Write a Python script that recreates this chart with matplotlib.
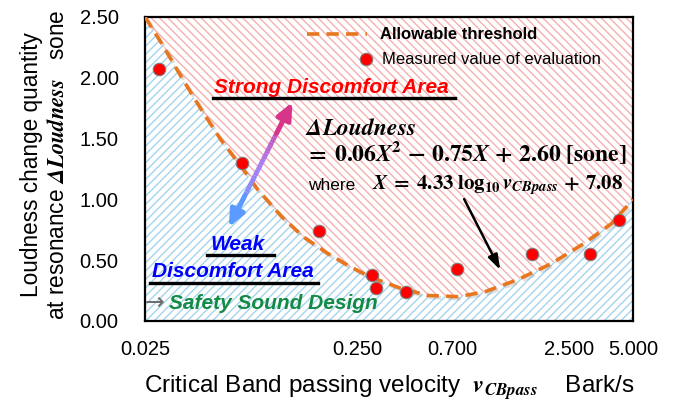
import numpy as np
import matplotlib
matplotlib.use("Agg")
import matplotlib.pyplot as plt
import matplotlib.colors as mcolors
import matplotlib.patheffects as pe
from matplotlib.lines import Line2D

plt.rcParams['font.family'] = ['Liberation Sans', 'DejaVu Sans']
plt.rcParams['mathtext.fontset'] = 'stix'
plt.rcParams['hatch.linewidth'] = 1.0

# allowable threshold curve
thr_v = [0.025, 0.030, 0.037, 0.046, 0.057, 0.071, 0.085, 0.11, 0.14, 0.18, 0.23,
         0.29, 0.40, 0.54, 0.75, 1.0, 1.43, 2.05, 2.95, 3.95, 5.0]
thr_L = [2.50, 2.28, 2.01, 1.74, 1.49, 1.27, 1.08, 0.86, 0.69, 0.56, 0.45,
         0.36, 0.27, 0.21, 0.20, 0.24, 0.34, 0.47, 0.64, 0.80, 1.00]

# measured values of evaluation
meas_v = [0.029, 0.072, 0.166, 0.293, 0.308, 0.426, 0.738, 1.67, 3.12, 4.30]
meas_L = [2.07, 1.30, 0.74, 0.38, 0.27, 0.24, 0.43, 0.55, 0.55, 0.83]

xticks = [0.025, 0.25, 0.7, 2.5, 5.0]
xticklabels = ['0.025', '0.250', '0.700', '2.500', '5.000']
yticks = [0.0, 0.5, 1.0, 1.5, 2.0, 2.5]

orange = '#E8761E'
fig = plt.figure(figsize=(6.74, 4.01), dpi=100)
ax = fig.add_axes([145/674, 80/401, 488/674, 304/401])

ax.fill_between(thr_v, thr_L, 2.5, facecolor='none', edgecolor='#F5B0B0',
                hatch='\\\\\\\\', linewidth=0)
ax.fill_between(thr_v, 0, thr_L, facecolor='none', edgecolor='#A5D5EE',
                hatch='////', linewidth=0)

shadow = [pe.SimpleLineShadow(offset=(1.5, -1.5), alpha=0.25, shadow_color='grey'), pe.Normal()]
ax.plot(thr_v, thr_L, color=orange, lw=2.6, linestyle=(0, (3.4, 2)),
        path_effects=shadow, zorder=3)
ax.plot(meas_v, meas_L, 'o', color='#FF0000', ms=9, mec='#7F7F7F', mew=0.8, zorder=4)

ax.set_xscale('log')
ax.set_xlim(0.025, 5.0)
ax.set_ylim(0, 2.5)
ax.set_xticks(xticks)
ax.set_xticklabels(xticklabels)
ax.minorticks_off()
ax.set_yticks(yticks)
ax.set_yticklabels(['%.2f' % t for t in yticks])
ax.tick_params(length=0, labelsize=14.5)
ax.tick_params(axis='y', pad=19)
ax.tick_params(axis='x', pad=14)
for s in ax.spines.values():
    s.set_linewidth(1.6)

ax.set_xlabel(r'Critical Band passing velocity  $\mathbfit{v}_{\mathbfit{CBpass}}$    Bark/s',
              fontsize=17.5, labelpad=10)
ax.set_ylabel('Loudness change quantity\n' + r'at resonance $\mathbfit{\Delta Loudness}$   sone',
              fontsize=16.3, labelpad=8, linespacing=1.12)
ax.yaxis.label.set_y(0.515)

# legend
h1 = Line2D([], [], color=orange, lw=2.6, linestyle=(0, (3.4, 2)))
leg1 = ax.legend([h1], ['Allowable threshold'], loc='center left',
                 bbox_to_anchor=(0.331, 0.941), frameon=False, fontsize=12,
                 handlelength=3.6, handletextpad=0.8, borderpad=0, borderaxespad=0)
leg1.get_texts()[0].set_fontweight('bold')
ax.add_artist(leg1)
h2 = Line2D([], [], marker='o', color='#FF0000', ls='none', ms=9, mec='#7F7F7F', mew=0.8)
ax.legend([h2], ['Measured value of evaluation'], loc='center left',
          bbox_to_anchor=(0.436, 0.859), frameon=False, fontsize=12,
          handlelength=1.0, handletextpad=0.45, borderpad=0, borderaxespad=0)

tr = ax.transAxes

ax.text(0.142, 0.768, 'Strong Discomfort Area', transform=tr, color='#FF0000',
        fontsize=15, fontweight='bold', style='italic', va='center', ha='left', zorder=5)
ax.plot([0.139, 0.636], [0.733, 0.733], color='black', lw=2.4, transform=tr, zorder=5)

ax.text(0.328, 0.632, r'$\mathbfit{\Delta Loudness}$', transform=tr, fontsize=17,
        va='center', ha='left', zorder=5)
ax.text(0.328, 0.553,
        r'$\mathbf{=\;0.06}\mathbfit{X}^{\mathbf{2}}\mathbf{\,-\,0.75}\mathbfit{X}\mathbf{\,+\,2.60\ [sone]}$',
        transform=tr, fontsize=17, va='center', ha='left', zorder=5)
ax.text(0.334, 0.447, 'where', transform=tr, fontsize=12.5, va='center', ha='left', zorder=5)
ax.text(0.465, 0.447,
        r'$\mathbfit{X}\mathbf{\;=\;4.33\;log_{10}}\,\mathbfit{v}_{\mathbfit{CBpass}}\mathbf{\,+\,7.08}$',
        transform=tr, fontsize=15, va='center', ha='left', zorder=5)

ax.text(0.190, 0.252, 'Weak', transform=tr, color='#0000FF', fontsize=15,
        fontweight='bold', style='italic', va='center', ha='center', zorder=5)
ax.plot([0.127, 0.264], [0.218, 0.218], color='black', lw=2.4, transform=tr, zorder=5)
ax.text(0.015, 0.163, 'Discomfort Area', transform=tr, color='#0000FF', fontsize=15,
        fontweight='bold', style='italic', va='center', ha='left', zorder=5)
ax.plot([0.010, 0.354], [0.125, 0.125], color='black', lw=2.4, transform=tr, zorder=5)
ax.text(0.000, 0.060, '\u2192', transform=tr, color='#6E6E6E', fontsize=17,
        va='center', ha='left', zorder=5, family=['DejaVu Sans'])
ax.text(0.050, 0.056, 'Safety Sound Design', transform=tr, color='#138A45', fontsize=15,
        fontweight='bold', style='italic', va='center', ha='left', zorder=5)

# gradient double arrow
p0 = np.array([0.172, 0.309])
p1 = np.array([0.302, 0.720])
cmap = mcolors.LinearSegmentedColormap.from_list('g', ['#5B9BFF', '#A97BF5', '#D8348A'])
n = 40
for i in range(n):
    a = p0 + (p1 - p0) * (0.06 + 0.88 * i / n)
    b = p0 + (p1 - p0) * (0.06 + 0.88 * (i + 1) / n)
    ax.plot([a[0], b[0]], [a[1], b[1]], color=cmap(i / (n - 1)), lw=3.4,
            solid_capstyle='butt', transform=tr, zorder=6)
ax.annotate('', xy=p1, xytext=p0 + (p1 - p0) * 0.75, xycoords=tr, textcoords=tr,
            arrowprops=dict(arrowstyle='-|>,head_length=1.0,head_width=0.45',
                            color='#D8348A', lw=3.4, shrinkA=0, shrinkB=0), zorder=6)
ax.annotate('', xy=p0, xytext=p0 + (p1 - p0) * 0.25, xycoords=tr, textcoords=tr,
            arrowprops=dict(arrowstyle='-|>,head_length=1.0,head_width=0.45',
                            color='#5B9BFF', lw=3.4, shrinkA=0, shrinkB=0), zorder=6)

# black arrow to curve
ax.annotate('', xy=(0.728, 0.168), xytext=(0.654, 0.401), xycoords=tr, textcoords=tr,
            arrowprops=dict(arrowstyle='-|>,head_length=0.9,head_width=0.3',
                            color='black', lw=1.8, shrinkA=0, shrinkB=0), zorder=6)

fig.savefig('out.png', dpi=100)
